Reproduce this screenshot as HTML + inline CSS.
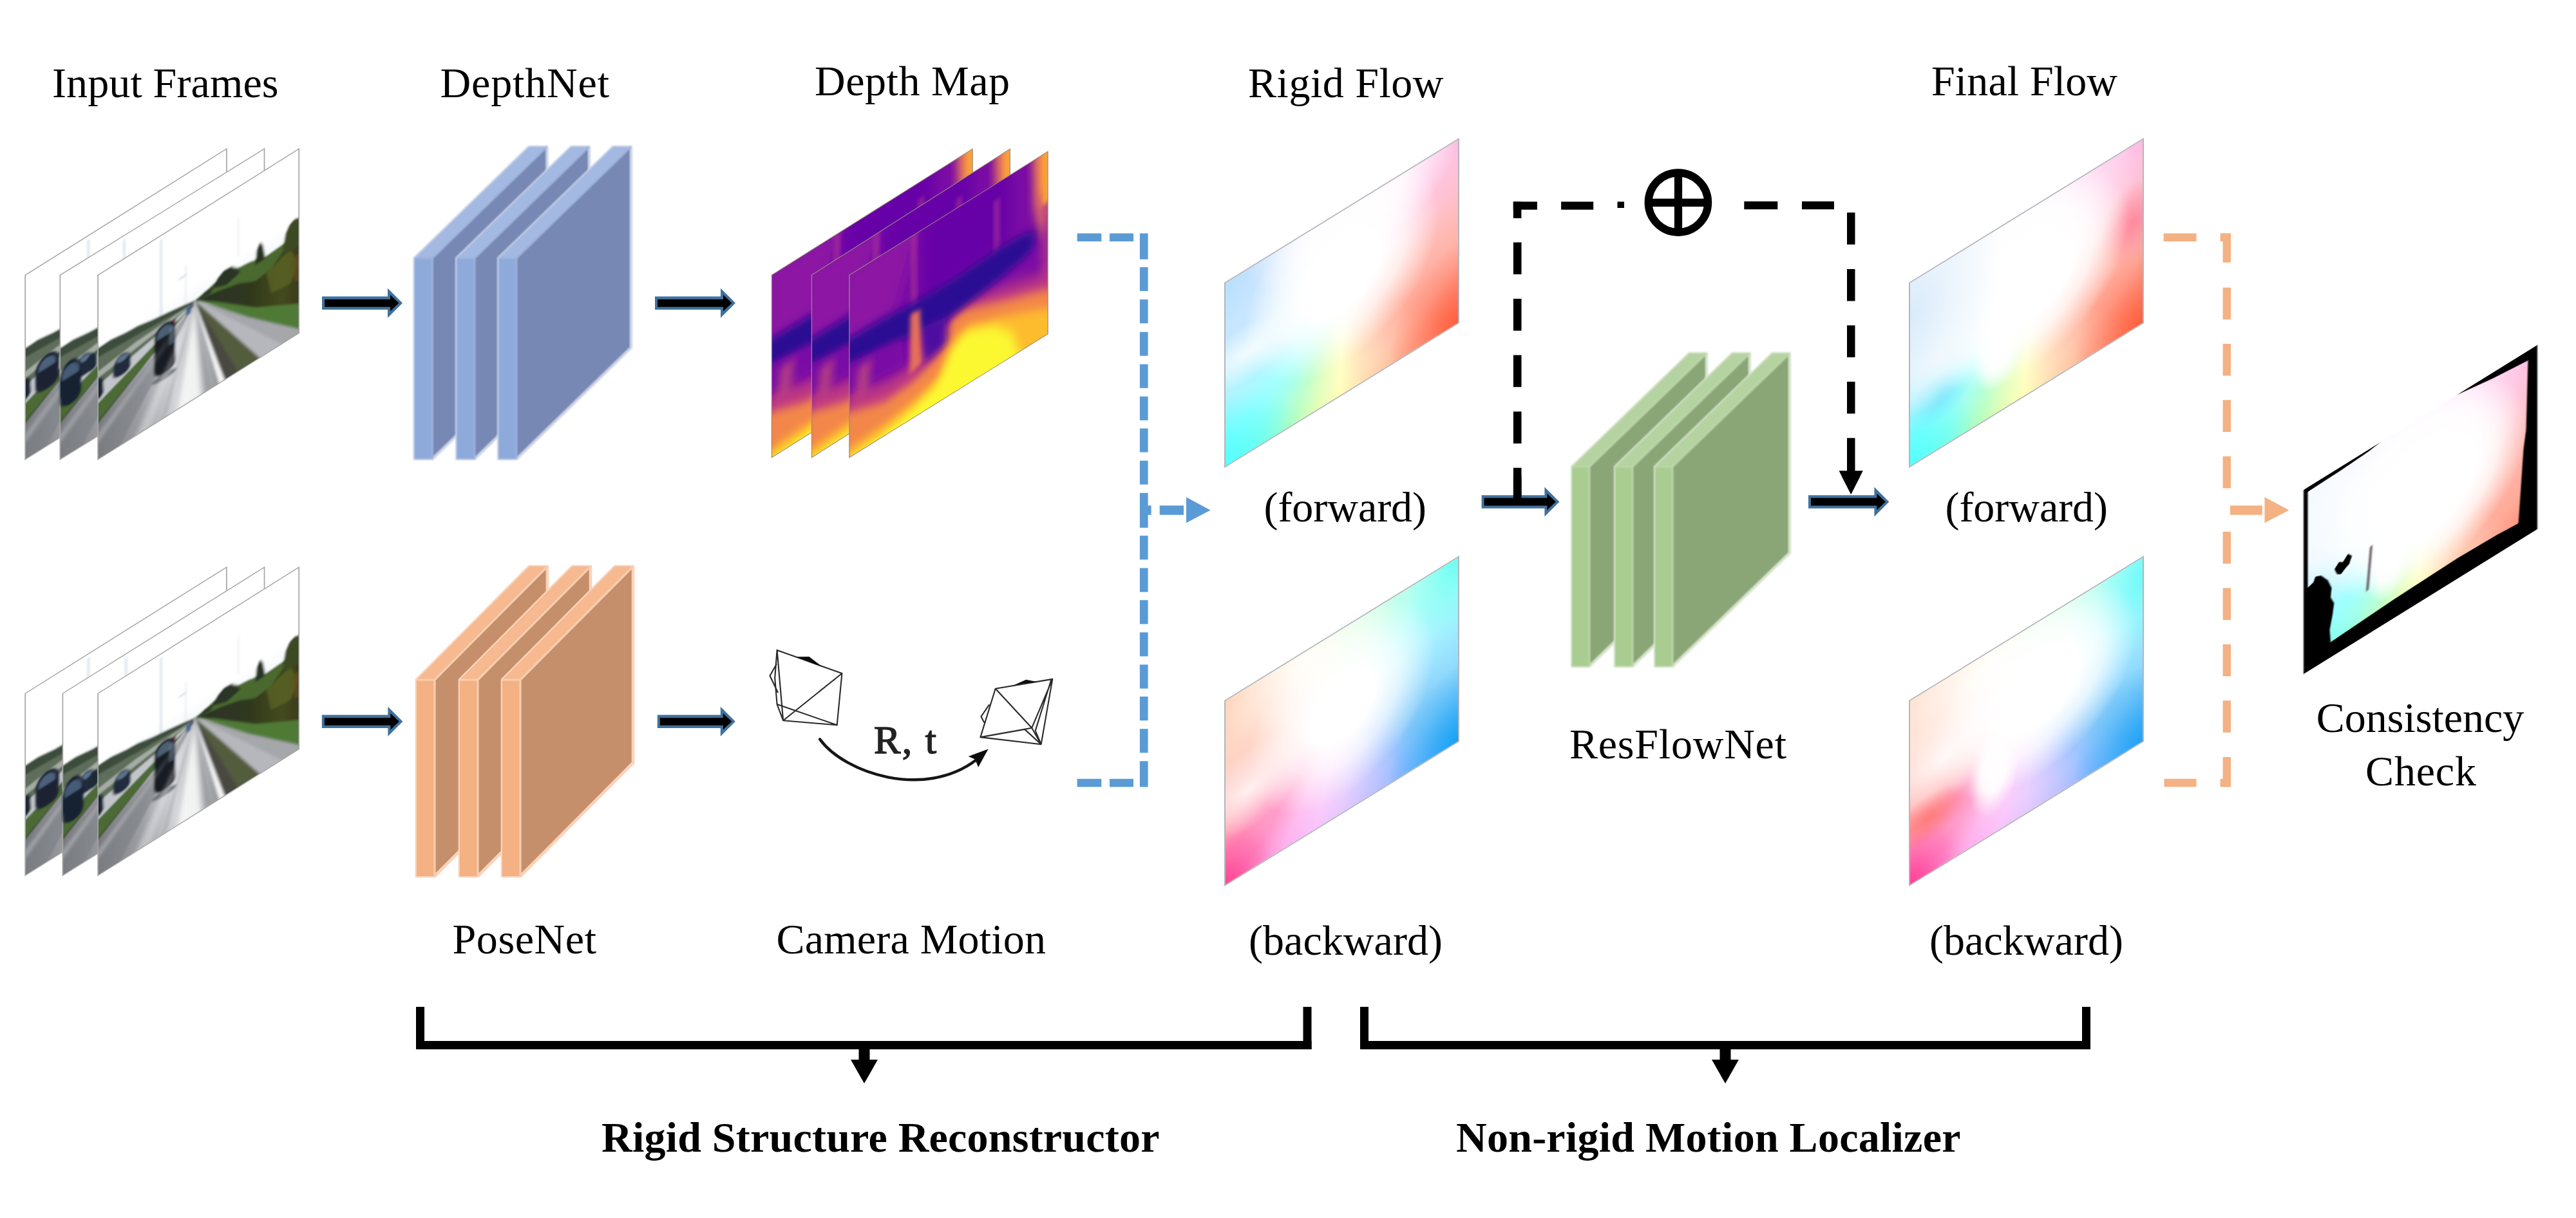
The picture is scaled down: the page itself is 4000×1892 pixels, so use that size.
<!DOCTYPE html>
<html>
<head>
<meta charset="utf-8">
<title>GeoNet overview</title>
<style>
html,body{margin:0;padding:0;background:#fff;}
body{width:4000px;height:1892px;position:relative;overflow:hidden;font-family:"Liberation Serif",serif;}
#main{position:absolute;left:0;top:0;}
text{font-family:"Liberation Serif",serif;font-size:66px;fill:#000;}
.b{font-weight:bold;}
.flow{position:absolute;transform-origin:0 0;box-sizing:border-box;overflow:hidden;}
.flow i{position:absolute;display:block;}
</style>
</head>
<body>
<div class="flow" style="left:1901px;top:438.8px;width:364.5px;height:288px;transform:matrix(1,-0.6165,0,1,0,0);border:2px solid #b3b6bc;background:
    radial-gradient(ellipse 42% 50% at 50% 34%, rgba(255,255,255,1) 0, rgba(255,255,255,1) 40%, rgba(255,255,255,0.75) 64%, rgba(255,255,255,0) 100%),
    radial-gradient(ellipse 45% 34% at 55% 0%, rgba(255,255,255,.95) 0, rgba(255,255,255,.8) 50%, rgba(255,255,255,0) 100%),
    radial-gradient(ellipse 26% 16% at 10% 45%, rgba(255,255,255,.8) 0, rgba(255,255,255,0) 100%),
    radial-gradient(ellipse 36% 46% at 0% 0%, rgba(184,224,254,.95) 0, rgba(196,228,254,.6) 50%, rgba(210,235,255,0) 100%),
    radial-gradient(ellipse 30% 36% at 0% 100%, rgba(80,255,255,.8) 0, rgba(80,255,255,.4) 55%, rgba(80,255,255,0) 100%),
    radial-gradient(ellipse 30% 45% at 100% 100%, rgba(255,86,50,.8) 0, rgba(255,100,70,.35) 60%, rgba(255,110,80,0) 100%),
    radial-gradient(ellipse 120% 120% at 52% 38%, rgba(255,255,255,.6) 0, rgba(255,255,255,.5) 45%, rgba(255,255,255,0.05) 85%),
    conic-gradient(from 0deg at 52% 40%, #f3b4ff 0deg, #ff9ae0 35deg, #ff86c8 58deg, #ff7d96 80deg, #ff6a58 100deg, #ff5a3c 120deg, #ff5530 135deg, #ff8458 152deg, #ffbd78 168deg, #ffff84 184deg, #c8ff80 196deg, #7dff96 207deg, #48ffd8 220deg, #3cffff 232deg, #62eaff 250deg, #8ad6ff 272deg, #9ccaff 300deg, #c4b8ff 330deg, #f3b4ff 360deg);"></div>
<div class="flow" style="left:1901px;top:1088px;width:364.5px;height:288.5px;transform:matrix(1,-0.6165,0,1,0,0);border:2px solid #b3b6bc;background:
    radial-gradient(ellipse 40% 50% at 50% 42%, rgba(255,255,255,1) 0, rgba(255,255,255,1) 35%, rgba(255,255,255,0.7) 62%, rgba(255,255,255,0) 100%),
    radial-gradient(ellipse 40% 30% at 34% 5%, rgba(255,255,255,.8) 0, rgba(255,255,255,0) 100%),
    radial-gradient(ellipse 26% 22% at 10% 56%, rgba(255,255,255,.8) 0, rgba(255,255,255,0) 100%),
    radial-gradient(ellipse 30% 40% at 0% 0%, rgba(255,206,176,.9) 0, rgba(255,214,190,.5) 55%, rgba(255,220,200,0) 100%),
    radial-gradient(ellipse 20% 27% at 0% 100%, rgba(255,64,140,.85) 0, rgba(255,80,160,.4) 55%, rgba(255,90,170,0) 100%),
    radial-gradient(ellipse 30% 42% at 100% 100%, rgba(16,160,244,.9) 0, rgba(40,170,246,.45) 55%, rgba(60,180,250,0) 100%),
    radial-gradient(ellipse 22% 40% at 100% 0%, rgba(100,255,240,.85) 0, rgba(120,255,240,.4) 55%, rgba(130,255,240,0) 100%),
    radial-gradient(ellipse 120% 120% at 52% 38%, rgba(255,255,255,.6) 0, rgba(255,255,255,.45) 45%, rgba(255,255,255,0.05) 85%),
    conic-gradient(from 0deg at 52% 40%, #b8ffb0 0deg, #8cffd0 30deg, #62fff2 56deg, #54eaff 80deg, #3cc8ff 100deg, #1fa6f6 120deg, #1f9cf4 135deg, #4a92ff 150deg, #9a9cff 166deg, #d4a6ff 182deg, #f6a0f8 196deg, #ff86e4 210deg, #ff4aa0 224deg, #ff4088 236deg, #ff7a7a 252deg, #ffa890 272deg, #ffc4a4 300deg, #fff0b0 330deg, #b8ffb0 360deg);"></div>
<div class="flow" style="left:2963.5px;top:438.8px;width:364.5px;height:288px;transform:matrix(1,-0.6165,0,1,0,0);border:2px solid #b3b6bc;background:
    radial-gradient(ellipse 40% 62% at 0% 18%, rgba(206,229,248,.75) 0, rgba(218,236,250,.45) 50%, rgba(232,244,253,0) 100%),
    radial-gradient(ellipse 44% 50% at 50% 38%, rgba(255,255,255,1) 0, rgba(255,255,255,1) 45%, rgba(255,255,255,0.8) 65%, rgba(255,255,255,0) 100%),
    radial-gradient(ellipse 70% 50% at 28% 15%, rgba(255,255,255,.95) 0, rgba(255,255,255,.85) 50%, rgba(255,255,255,0) 100%),
    radial-gradient(ellipse 11% 22% at 38% 66%, rgba(255,255,255,1) 0, rgba(255,255,255,.9) 50%, rgba(255,255,255,0) 100%),
    radial-gradient(ellipse 30% 28% at 12% 48%, rgba(255,255,255,.9) 0, rgba(255,255,255,0) 100%),
    radial-gradient(ellipse 14% 14% at 13% 72%, rgba(110,225,250,.8) 0, rgba(110,225,250,0) 100%),
    radial-gradient(ellipse 28% 34% at 0% 100%, rgba(80,255,255,.8) 0, rgba(80,255,255,.4) 55%, rgba(80,255,255,0) 100%),
    radial-gradient(ellipse 30% 45% at 100% 100%, rgba(255,86,50,.8) 0, rgba(255,100,70,.35) 60%, rgba(255,110,80,0) 100%),
    radial-gradient(ellipse 14% 22% at 96% 42%, rgba(255,120,150,.75) 0, rgba(255,120,150,0) 100%),
    radial-gradient(ellipse 120% 120% at 52% 38%, rgba(255,255,255,.6) 0, rgba(255,255,255,.5) 45%, rgba(255,255,255,0.05) 85%),
    conic-gradient(from 0deg at 52% 40%, #f3b4ff 0deg, #ff9ae0 35deg, #ff86c8 58deg, #ff7d96 80deg, #ff6a58 100deg, #ff5a3c 120deg, #ff5530 135deg, #ff8458 152deg, #ffbd78 168deg, #ffff84 184deg, #c8ff80 196deg, #7dff96 207deg, #48ffd8 220deg, #3cffff 232deg, #62eaff 250deg, #8ad6ff 272deg, #9ccaff 300deg, #c4b8ff 330deg, #f3b4ff 360deg);"></div>
<div class="flow" style="left:2963.5px;top:1088px;width:364.5px;height:288.5px;transform:matrix(1,-0.6165,0,1,0,0);border:2px solid #b3b6bc;background:
    radial-gradient(ellipse 44% 48% at 54% 36%, rgba(255,255,255,1) 0, rgba(255,255,255,1) 42%, rgba(255,255,255,0.75) 65%, rgba(255,255,255,0) 100%),
    radial-gradient(ellipse 11% 24% at 36% 66%, rgba(255,255,255,1) 0, rgba(255,255,255,.9) 50%, rgba(255,255,255,0) 100%),
    radial-gradient(ellipse 50% 35% at 32% 8%, rgba(255,255,255,.85) 0, rgba(255,255,255,0) 100%),
    radial-gradient(ellipse 17% 13% at 8% 70%, rgba(255,110,100,.75) 0, rgba(255,110,100,0) 100%),
    radial-gradient(ellipse 30% 25% at 14% 42%, rgba(255,255,255,.85) 0, rgba(255,255,255,0) 100%),
    radial-gradient(ellipse 28% 36% at 0% 0%, rgba(255,214,190,.8) 0, rgba(255,220,200,.4) 55%, rgba(255,224,208,0) 100%),
    radial-gradient(ellipse 22% 27% at 0% 100%, rgba(255,56,150,.85) 0, rgba(255,80,170,.4) 55%, rgba(255,90,180,0) 100%),
    radial-gradient(ellipse 30% 42% at 100% 100%, rgba(28,160,246,.9) 0, rgba(50,170,248,.45) 55%, rgba(70,180,250,0) 100%),
    radial-gradient(ellipse 20% 40% at 100% 10%, rgba(100,250,250,.8) 0, rgba(120,250,250,.4) 55%, rgba(130,250,250,0) 100%),
    radial-gradient(ellipse 120% 120% at 52% 38%, rgba(255,255,255,.6) 0, rgba(255,255,255,.45) 45%, rgba(255,255,255,0.05) 85%),
    conic-gradient(from 0deg at 52% 40%, #b8ffb0 0deg, #8cffd0 30deg, #62fff2 56deg, #54eaff 80deg, #3cc8ff 100deg, #1fa6f6 120deg, #1f9cf4 135deg, #4a92ff 150deg, #9a9cff 166deg, #d4a6ff 182deg, #f6a0f8 196deg, #ff86e4 210deg, #ff4aa0 224deg, #ff4088 236deg, #ff7a7a 252deg, #ffa890 272deg, #ffc4a4 300deg, #fff0b0 330deg, #b8ffb0 360deg);"></div>
<div class="flow" style="left:3577px;top:760.5px;width:363px;height:286px;transform:matrix(1,-0.62,0,1,0,0);background:#000;filter:blur(0.7px);"><i style="left:0;top:0;width:363px;height:286px;clip-path:polygon(6.5px 7px, 60px 5.5px, 100px 3px, 125px -1px, 232px -1px, 260px 3.5px, 294px 9px, 348.5px 15px, 345.5px 121px, 341.5px 148.5px, 333.6px 258.8px, 300px 256px, 240px 254.3px, 140px 257px, 42px 262.4px, 40.5px 242.4px, 45px 221.5px, 47.3px 205.2px, 42px 193px, 43.5px 179.2px, 37.6px 163.7px, 27.2px 149.9px, 18.4px 145.9px, 15.4px 152.9px, 6.5px 156px);filter:blur(0.6px);background:
    radial-gradient(ellipse 44% 50% at 52% 40%, rgba(255,255,255,1) 0, rgba(255,255,255,1) 50%, rgba(255,255,255,0.8) 70%, rgba(255,255,255,0) 100%),
    radial-gradient(ellipse 70% 55% at 25% 18%, rgba(255,255,255,.9) 0, rgba(255,255,255,.8) 50%, rgba(255,255,255,0) 100%),
    radial-gradient(ellipse 10% 22% at 36% 66%, rgba(255,255,255,1) 0, rgba(255,255,255,.9) 50%, rgba(255,255,255,0) 100%),
    radial-gradient(ellipse 120% 120% at 52% 38%, rgba(255,255,255,.62) 0, rgba(255,255,255,.5) 45%, rgba(255,255,255,0.05) 85%),
    conic-gradient(from 0deg at 52% 40%, #f3b4ff 0deg, #ff9ae0 35deg, #ff86c8 58deg, #ff7d96 80deg, #ff6a58 100deg, #ff5a3c 120deg, #ff5530 135deg, #ff8458 152deg, #ffbd78 168deg, #ffff84 184deg, #c8ff80 196deg, #7dff96 207deg, #48ffd8 220deg, #3cffff 232deg, #62eaff 250deg, #8ad6ff 272deg, #9ccaff 300deg, #c4b8ff 330deg, #f3b4ff 360deg);"></i><i style="left:0;top:0;width:363px;height:286px;clip-path:polygon(48px 153px, 55px 146px, 61px 150px, 69px 142px, 75px 149px, 71px 159px, 65px 162px, 58px 167px, 52px 163px);background:#000;"></i><i style="left:100px;top:152px;width:4px;height:66px;transform:rotate(5.3deg);background:rgba(70,40,50,.75);filter:blur(0.8px);"></i></div>
<svg id="main" width="4000" height="1892" viewBox="0 0 4000 1892">
<defs>
  <filter id="soft" x="-5%" y="-5%" width="110%" height="110%"><feGaussianBlur stdDeviation="1.1"/></filter>
  <filter id="soft2" x="-5%" y="-5%" width="110%" height="110%"><feGaussianBlur stdDeviation="0.7"/></filter>
  <g id="barrow">
    <polygon points="0,-10.2 102,-10.2 102,-23 125,0 102,23 102,10.2 0,10.2" fill="#41719c"/>
    <polygon points="4,-5.9 106,-5.9 106,-12.8 119.4,0 106,12.8 106,5.9 4,5.9" fill="#000"/>
  </g>
</defs>
<!-- titles -->
<text x="81" y="150.5" textLength="351.5">Input Frames</text>
<text x="683.5" y="150.5" textLength="262.5">DepthNet</text>
<text x="1265" y="148.3" textLength="303">Depth Map</text>
<text x="1938" y="150.8" textLength="303.5">Rigid Flow</text>
<text x="2999" y="148" textLength="289">Final Flow</text>
<defs>
  <clipPath id="roadclip"><rect x="0" y="0" width="313" height="285"/></clipPath>
  <filter id="rblur" x="-10%" y="-10%" width="120%" height="120%"><feGaussianBlur stdDeviation="1.7"/></filter>
  <filter id="rblur2" x="-20%" y="-20%" width="140%" height="140%"><feGaussianBlur stdDeviation="4"/></filter>
  <linearGradient id="skyg" x1="0" y1="0" x2="0" y2="1"><stop offset="0" stop-color="#ffffff"/><stop offset="0.75" stop-color="#ffffff"/><stop offset="1" stop-color="#f1f5f8"/></linearGradient>
  <linearGradient id="roadg" x1="0" y1="0" x2="1" y2="0"><stop offset="0" stop-color="#75777d"/><stop offset="0.35" stop-color="#9c9ea3"/><stop offset="0.62" stop-color="#d4d5d9"/><stop offset="0.85" stop-color="#a9aaae"/><stop offset="1" stop-color="#8e8e92"/></linearGradient>
  <linearGradient id="treeg" x1="0" y1="0" x2="1" y2="0"><stop offset="0" stop-color="#2b3424"/><stop offset="0.5" stop-color="#2f371f"/><stop offset="0.8" stop-color="#434a1e"/><stop offset="1" stop-color="#3a3a1c"/></linearGradient>
  <g id="road">
    <rect x="0" y="0" width="313" height="285" fill="#fff"/>
    <g clip-path="url(#roadclip)">
      <g filter="url(#rblur)">
        <rect x="-5" y="-5" width="323" height="150" fill="url(#skyg)"/>
        <!-- light poles -->
        <rect x="97" y="6" width="2.4" height="118" fill="#c9d3e2"/>
        <rect x="136" y="70" width="1.6" height="60" fill="#dde3ec"/>
        <rect x="126" y="84" width="12" height="3" fill="#d5dbe6"/>
        <rect x="218" y="48" width="1.6" height="60" fill="#e2e7ee"/>
        <!-- left tree line -->
        <polygon points="-5,113 20,112 45,116 62,117 85,122 112,126 135,130 150,133 150,139 -5,131" fill="#3d4d3c"/>
        <!-- left verge (grass/dark) -->
        <polygon points="150,136 -5,127 -5,176" fill="#5f6e5a"/>
        <polygon points="150,136 60,140 -5,150 -5,160" fill="#b7bcb8" opacity=".8"/>
        <!-- left (oncoming) road -->
        <polygon points="150,137 -5,172 -5,201" fill="#c2c6cb"/>
        <!-- left median grass -->
        <polygon points="150,137 -5,200 -5,235" fill="#4c6a34"/>
        <polygon points="150,137 -5,228 -5,236" fill="#42522e"/>
        <!-- main road -->
        <polygon points="149,136 -5,233 -5,290 200,290 152,136" fill="url(#roadg)"/>
        <polygon points="150,138 -5,240 -5,290 30,290" fill="#7c7e84" opacity=".6"/>
        <polygon points="150,138 96,290 106,290" fill="#9b9da2" opacity=".3"/>
        <polygon points="151,138 168,290 176,290" fill="#8f9196" opacity=".4"/>
        <!-- right median -->
        <polygon points="152,136 199,290 256,290 153,136" fill="#525c3c"/>
        <polygon points="152,136 198,290 220,290" fill="#4a4842"/>
        <polygon points="151.5,138 190,290 199,290" fill="#f4f4f6"/>
        <!-- side road -->
        <polygon points="153,136 255,290 318,290 318,281" fill="#b6b7bc"/>
        <polygon points="156,138 290,290 318,290 318,284" fill="#a6a7ab"/>
        <!-- right grass strip -->
        <polygon points="153,135 168,148 234,211 318,283 318,240 245,203 181,154" fill="#4f7a36"/>
        <!-- hillside: light green slope + dark bushes + trees -->
        <polygon points="150,133 166,130 185,124 196,117 208,118 219,125 236,127 262,134 287,132 318,125 318,242 245,203 181,154 153,136" fill="#48692f"/>
        <polygon points="153,135 191,142 220,150 245,162 270,158 290,140 318,130 318,242 245,203 181,154" fill="url(#treeg)"/>
        <polygon points="262,160 300,148 312,175 300,200 270,196" fill="#5c6622" opacity=".7"/>
        <polygon points="304,165 318,160 318,205 306,200" fill="#6a4c20" opacity=".7"/>
        <!-- trees on skyline -->
        <polygon points="245,137 247,116 252,106 257,114 261,137" fill="#263424"/>
        <polygon points="288,140 292,118 298,108 306,104 313,106 318,108 318,150 290,150" fill="#3d4a20"/>
        <polygon points="178,132 186,121 196,115 208,116 216,124 222,134 200,140" fill="#2b3626"/>
        <polygon points="155,135 166,129 180,131 176,138" fill="#2f3a2a"/>
        <!-- far cars -->
        <rect x="137" y="137" width="8" height="12" fill="#46608c"/>
        <rect x="144" y="135" width="5" height="7" fill="#4a5466"/>
        <rect x="115" y="143" width="6" height="12" fill="#7a2c3a"/>
        <!-- left road cars -->
        <path d="M24,158 Q27,146 38,145 Q50,146 51,159 L51,170 Q49,178 37,178 Q24,178 23,170 Z" fill="#202b3e"/>
        <ellipse cx="38" cy="152" rx="9" ry="4.5" fill="#5b728c"/>
        <path d="M-5,160 Q4,158 8,166 L9,186 Q3,196 -5,192 Z" fill="#1e2736"/>
        <!-- dark car on main road -->
        <path d="M88,152 Q90,140 104,139 Q118,139 120,152 L121,205 Q121,216 104,217 Q88,217 87,205 Z" fill="#181b24"/>
        <path d="M92,153 Q94,144 104,143 Q114,143 116,153 L116,159 L92,159 Z" fill="#4b5e72"/>
        <rect x="111" y="150" width="8" height="28" fill="#6c8194" opacity=".5"/>
        <ellipse cx="103" cy="221" rx="19" ry="5" fill="#74767c"/>
      </g>
      <!-- bright wet centre of main road -->
      <g filter="url(#rblur2)">
        <polygon points="150,140 124,290 162,290" fill="#fff" opacity=".8"/>
        <polygon points="150,140 56,290 80,290" fill="#fff" opacity=".3"/>
        <polygon points="150,140 -5,250 -5,262" fill="#fff" opacity=".3"/>
      </g>
    </g>
    <rect x="0" y="0" width="313" height="285" fill="none" stroke="#a6a6a6" stroke-width="1.7"/>
  </g>
  <g id="carB" filter="url(#rblur)">
    <path d="M16,160 Q19,145 34,143 Q50,144 52,160 L52,186 Q50,197 34,197 Q17,197 16,186 Z" fill="#1b2330"/>
    <path d="M21,158 Q24,149 34,148 Q45,149 47,158 L47,164 L21,164 Z" fill="#4c627c"/>
  </g>
  <g id="carM" filter="url(#rblur)">
    <path d="M0,160 Q3,143 16,141 Q30,142 32,160 L32,196 Q30,209 15,209 Q1,208 0,196 Z" fill="#182030"/>
    <path d="M3,158 Q6,148 16,147 Q27,148 29,158 L29,166 L3,166 Z" fill="#455b76"/>
    <path d="M41,160 Q43,152 48,152 Q55,152 56,160 L56,172 Q54,177 48,177 Q42,177 41,172 Z" fill="#1f2938"/>
  </g>
</defs>
<defs>
  <clipPath id="depclip"><rect x="0" y="0" width="309" height="282"/></clipPath>
  <filter id="db3" x="-30%" y="-30%" width="160%" height="160%"><feGaussianBlur stdDeviation="3.5"/></filter>
  <filter id="db6" x="-30%" y="-30%" width="160%" height="160%"><feGaussianBlur stdDeviation="7"/></filter>
  <filter id="db10" x="-30%" y="-30%" width="160%" height="160%"><feGaussianBlur stdDeviation="11"/></filter>
  <g id="depth">
    <g clip-path="url(#depclip)">
      <rect x="0" y="0" width="309" height="282" fill="#7b0ca5"/>
      <polygon points="-10,-10 110,-10 70,100 -10,100" fill="#8d14a4" filter="url(#db10)"/>
      <polygon points="110,-10 250,-10 250,100 110,110" fill="#6606a7" filter="url(#db10)"/>
      <!-- faint vertical streaks -->
      <rect x="96" y="-5" width="9" height="130" fill="#a83098" filter="url(#db3)" opacity=".75"/>
      <rect x="225" y="25" width="9" height="80" fill="#a83098" filter="url(#db3)" opacity=".7"/>
      <!-- right/top orange edge -->
      <polygon points="286,-10 320,-10 320,80 300,130 288,70" fill="#f0834f" filter="url(#db6)"/>
      <polygon points="296,60 320,60 320,220 300,200" fill="#b03a8c" filter="url(#db6)" opacity=".8"/>
      <rect x="300" y="-6" width="14" height="84" fill="#fba238" filter="url(#db3)"/>
      <!-- lower gradient regions -->
      <polygon points="-10,176 54,200 100,200 140,176 160,150 182,150 246,168 320,192 320,300 -10,300" fill="#c13b82" filter="url(#db10)"/>
      <polygon points="-10,208 54,230 100,226 140,210 158,168 182,165 246,190 320,216 320,300 -10,300" fill="#f3874a" filter="url(#db6)"/>
      <polygon points="-10,268 54,264 100,256 138,242 160,200 182,190 246,214 320,246 320,300 -10,300" fill="#fdbb2d" filter="url(#db6)"/>
      <polygon points="-10,284 54,278 100,268 138,254 162,212 184,200 226,218 252,244 270,300 -10,300" fill="#fbf830" filter="url(#db6)"/>
      <!-- indigo band -->
      <polygon points="-10,98 60,101 100,105 160,107 230,103 270,104 290,112 286,137 268,143 230,151 180,159 140,164 100,154 60,146 -10,139" fill="#2a0a93" filter="url(#db6)"/>
      <polygon points="112,150 150,158 152,200 116,208" fill="#4d08a0" filter="url(#db6)"/>
      <polygon points="-10,135 80,150 85,190 -10,180" fill="#7a0ea6" filter="url(#db6)" opacity=".9"/>
      <!-- orange vertical streak -->
      <polygon points="95,118 110,122 113,205 94,212" fill="#e56f5a" filter="url(#db3)"/>
      <polygon points="14,150 34,152 28,200 10,195" fill="#c44c7c" filter="url(#db6)" opacity=".8"/>
    </g>
    <rect x="0" y="0" width="309" height="282" fill="none" stroke="#9a8f80" stroke-width="1.2"/>
  </g>
</defs>
<!-- slabs -->
<g filter="url(#soft)" stroke-linejoin="round"><polygon points="643.5,401 821.5,228 849.5,228 849.5,540 671.5,713 643.5,713" fill="#7688b3" stroke="#ccd4e6" stroke-width="4.1"/><polygon points="643.5,401 671.5,401 849.5,228 821.5,228" fill="#a4b9e1"/><rect x="643.5" y="401" width="28" height="312" fill="#8eaadb"/><path d="M643.5,401 L671.5,401 L849.5,228 M671.5,401 L671.5,713" fill="none" stroke="#9fb3dc" stroke-width="2.6"/></g>
<g filter="url(#soft)" stroke-linejoin="round"><polygon points="709,401 887,228 915,228 915,540 737,713 709,713" fill="#7688b3" stroke="#ccd4e6" stroke-width="4.1"/><polygon points="709,401 737,401 915,228 887,228" fill="#a4b9e1"/><rect x="709" y="401" width="28" height="312" fill="#8eaadb"/><path d="M709,401 L737,401 L915,228 M737,401 L737,713" fill="none" stroke="#9fb3dc" stroke-width="2.6"/></g>
<g filter="url(#soft)" stroke-linejoin="round"><polygon points="774,401 952,228 980,228 980,540 802,713 774,713" fill="#7688b3" stroke="#ccd4e6" stroke-width="4.1"/><polygon points="774,401 802,401 980,228 952,228" fill="#a4b9e1"/><rect x="774" y="401" width="28" height="312" fill="#8eaadb"/><path d="M774,401 L802,401 L980,228 M802,401 L802,713" fill="none" stroke="#9fb3dc" stroke-width="2.6"/></g>
<g filter="url(#soft2)" stroke-linejoin="round"><polygon points="647,1056 822,880 850,880 850,1185 675,1361 647,1361" fill="#c48f6b" stroke="#f9d3ba" stroke-width="4.7"/><polygon points="647,1056 675,1056 850,880 822,880" fill="#f6b990"/><rect x="647" y="1056" width="28" height="305" fill="#f4b183"/><path d="M647,1056 L675,1056 L850,880 M675,1056 L675,1361" fill="none" stroke="#f8cdb0" stroke-width="3.2"/></g>
<g filter="url(#soft2)" stroke-linejoin="round"><polygon points="714,1056 889,880 917,880 917,1185 742,1361 714,1361" fill="#c48f6b" stroke="#f9d3ba" stroke-width="4.7"/><polygon points="714,1056 742,1056 917,880 889,880" fill="#f6b990"/><rect x="714" y="1056" width="28" height="305" fill="#f4b183"/><path d="M714,1056 L742,1056 L917,880 M742,1056 L742,1361" fill="none" stroke="#f8cdb0" stroke-width="3.2"/></g>
<g filter="url(#soft2)" stroke-linejoin="round"><polygon points="780,1056 955,880 983,880 983,1185 808,1361 780,1361" fill="#c48f6b" stroke="#f9d3ba" stroke-width="4.7"/><polygon points="780,1056 808,1056 983,880 955,880" fill="#f6b990"/><rect x="780" y="1056" width="28" height="305" fill="#f4b183"/><path d="M780,1056 L808,1056 L983,880 M808,1056 L808,1361" fill="none" stroke="#f8cdb0" stroke-width="3.2"/></g>
<g filter="url(#soft)" stroke-linejoin="round"><polygon points="2441,725 2623,549 2650,549 2650,859 2468,1035 2441,1035" fill="#8aa676" stroke="#d6e4cc" stroke-width="4.3"/><polygon points="2441,725 2468,725 2650,549 2623,549" fill="#b5d3a0"/><rect x="2441" y="725" width="27" height="310" fill="#a9cc91"/><path d="M2441,725 L2468,725 L2650,549 M2468,725 L2468,1035" fill="none" stroke="#bcd6aa" stroke-width="2.8"/></g>
<g filter="url(#soft)" stroke-linejoin="round"><polygon points="2508,725 2690,549 2717,549 2717,859 2535,1035 2508,1035" fill="#8aa676" stroke="#d6e4cc" stroke-width="4.3"/><polygon points="2508,725 2535,725 2717,549 2690,549" fill="#b5d3a0"/><rect x="2508" y="725" width="27" height="310" fill="#a9cc91"/><path d="M2508,725 L2535,725 L2717,549 M2535,725 L2535,1035" fill="none" stroke="#bcd6aa" stroke-width="2.8"/></g>
<g filter="url(#soft)" stroke-linejoin="round"><polygon points="2570,725 2752,549 2779,549 2779,859 2597,1035 2570,1035" fill="#8aa676" stroke="#d6e4cc" stroke-width="4.3"/><polygon points="2570,725 2597,725 2779,549 2752,549" fill="#b5d3a0"/><rect x="2570" y="725" width="27" height="310" fill="#a9cc91"/><path d="M2570,725 L2597,725 L2779,549 M2597,725 L2597,1035" fill="none" stroke="#bcd6aa" stroke-width="2.8"/></g>
<!-- block arrows -->
<polygon points="500,460.6 602,460.6 602,447.8 625,470.8 602,493.8 602,481.0 500,481.0" fill="#41719c"/><polygon points="504,464.90000000000003 606,464.90000000000003 606,458.0 619.4,470.8 606,483.6 606,476.7 504,476.7" fill="#000"/>
<polygon points="1017,460.6 1119,460.6 1119,447.8 1142,470.8 1119,493.8 1119,481.0 1017,481.0" fill="#41719c"/><polygon points="1021,464.90000000000003 1123,464.90000000000003 1123,458.0 1136.4,470.8 1123,483.6 1123,476.7 1021,476.7" fill="#000"/>
<polygon points="499.8,1110.6 602.4,1110.6 602.4,1097.8 625.4,1120.8 602.4,1143.8 602.4,1131.0 499.8,1131.0" fill="#41719c"/><polygon points="503.8,1114.8999999999999 606.4,1114.8999999999999 606.4,1108.0 619.8,1120.8 606.4,1133.6 606.4,1126.7 503.8,1126.7" fill="#000"/>
<polygon points="1020.8,1110.6 1118.8,1110.6 1118.8,1097.8 1141.8,1120.8 1118.8,1143.8 1118.8,1131.0 1020.8,1131.0" fill="#41719c"/><polygon points="1024.8,1114.8999999999999 1122.8,1114.8999999999999 1122.8,1108.0 1136.2,1120.8 1122.8,1133.6 1122.8,1126.7 1024.8,1126.7" fill="#000"/>
<!-- input frames -->
<use href="#road" transform="matrix(0.9987,-0.6268,0,1.0046,39.2,427.4)"/>
<use href="#carB" transform="matrix(0.9987,-0.6268,0,1.0046,39.2,427.4)"/>
<use href="#road" transform="matrix(1.0134,-0.6268,0,1.0046,93.3,427.4)"/>
<use href="#carM" transform="matrix(1.0134,-0.6268,0,1.0046,93.3,427.4)"/>
<use href="#road" transform="matrix(0.9971,-0.6268,0,1.0046,152.1,427.4)"/>
<use href="#road" transform="matrix(0.9987,-0.6268,0,0.9916,39.2,1077.2)"/>
<use href="#carB" transform="matrix(0.9987,-0.6268,0,0.9916,39.2,1077.2)"/>
<use href="#road" transform="matrix(1.0003,-0.6268,0,0.9916,97.4,1077.2)"/>
<use href="#carM" transform="matrix(1.0003,-0.6268,0,0.9916,97.4,1077.2)"/>
<use href="#road" transform="matrix(0.9971,-0.6268,0,0.9916,152.1,1077.2)"/>
<!-- depth maps -->
<use href="#depth" transform="matrix(1.0091,-0.6343,0,1.0053,1198.3,427.2)"/>
<use href="#depth" transform="matrix(0.9968,-0.6343,0,1.0053,1260.4,427.2)"/>
<use href="#depth" transform="matrix(0.9974,-0.6210,0,1.0053,1318.9,427.2)"/>
<!-- camera motion -->
<g filter="url(#soft2)"><path d="M1206.6,1009.9L1307.4,1046.0 M1307.4,1046.0L1299.7,1126.3 M1299.7,1126.3L1216.1,1119.2 M1216.1,1119.2L1206.6,1009.9 M1307.4,1046.0L1216.1,1119.2 M1206.6,1094.1L1299.7,1126.3 M1206.6,1009.9L1203.2,1053.1 M1203.2,1053.1L1206.6,1094.1 M1206.6,1094.1L1216.1,1119.2 M1205.5,1032.1L1195.5,1049.8 M1195.5,1049.8L1207.7,1075.3" fill="none" stroke="#2b2b2b" stroke-width="2.1" stroke-linecap="round"/>
<polygon points="1236.5,1020.3 1256.4,1019.9 1276.4,1035.4 1267.5,1032.7" fill="#111"/>
<path d="M1545.7,1069.8L1634.3,1054.9 M1634.3,1054.9L1616.6,1156.2 M1616.6,1156.2L1522.4,1145.1 M1522.4,1145.1L1545.7,1069.8 M1545.7,1069.8L1602.2,1130.7 M1602.2,1130.7L1616.6,1156.2 M1634.3,1054.9L1602.2,1130.7 M1522.4,1145.1L1602.2,1130.7 M1522.4,1145.1L1591.1,1132.9 M1591.1,1132.9L1616.6,1156.2 M1632.1,1056.5L1607.7,1135.1 M1607.7,1135.1L1616.6,1156.2 M1535.7,1095.2L1523.5,1113.0 M1523.5,1113.0L1527.9,1121.8" fill="none" stroke="#2b2b2b" stroke-width="2.1" stroke-linecap="round"/>
<polygon points="1573.4,1064.7 1593.3,1055.8 1611.0,1059.3 1591.1,1061.6" fill="#111"/>
<path d="M1273.1,1148.4 C1311.8,1201.6 1436.0,1241.5 1515.7,1180.6" fill="none" stroke="#151515" stroke-width="4.4" stroke-linecap="round"/>
<polygon points="1534.6,1163.5 1519.1,1191.7 1514.0,1179.5 1503.6,1175.0" fill="#111"/>
<text x="1357" y="1169.5" style="font-size:62px;fill:#222;stroke:#222;stroke-width:1.5px" textLength="97" lengthAdjust="spacing">R, t</text>
</g>
<!-- blue dashed connector -->
<g>
<rect x="1672.6" y="362.5" width="37.7" height="12.5" fill="#5b9bd5"/>
<rect x="1723.0" y="362.5" width="37.0" height="12.5" fill="#5b9bd5"/>
<rect x="1672.6" y="1209.8" width="37.7" height="12.6" fill="#5b9bd5"/>
<rect x="1723.0" y="1209.8" width="37.0" height="12.6" fill="#5b9bd5"/>
<rect x="1769.9" y="362.5" width="12.7" height="40.3" fill="#5b9bd5"/>
<rect x="1769.9" y="415.1" width="12.7" height="37.0" fill="#5b9bd5"/>
<rect x="1769.9" y="465.2" width="12.7" height="37.0" fill="#5b9bd5"/>
<rect x="1769.9" y="515.7" width="12.7" height="37.0" fill="#5b9bd5"/>
<rect x="1769.9" y="565.8" width="12.7" height="37.0" fill="#5b9bd5"/>
<rect x="1769.9" y="615.9" width="12.7" height="37.0" fill="#5b9bd5"/>
<rect x="1769.9" y="665.5" width="12.7" height="37.0" fill="#5b9bd5"/>
<rect x="1769.9" y="715.6" width="12.7" height="37.0" fill="#5b9bd5"/>
<rect x="1769.9" y="765.7" width="12.7" height="54.1" fill="#5b9bd5"/>
<rect x="1769.9" y="832.1" width="12.7" height="37.2" fill="#5b9bd5"/>
<rect x="1769.9" y="882.4" width="12.7" height="37.2" fill="#5b9bd5"/>
<rect x="1769.9" y="932.2" width="12.7" height="37.2" fill="#5b9bd5"/>
<rect x="1769.9" y="982.3" width="12.7" height="37.2" fill="#5b9bd5"/>
<rect x="1769.9" y="1032.4" width="12.7" height="37.2" fill="#5b9bd5"/>
<rect x="1769.9" y="1082.0" width="12.7" height="37.2" fill="#5b9bd5"/>
<rect x="1769.9" y="1132.2" width="12.7" height="37.2" fill="#5b9bd5"/>
<rect x="1769.9" y="1182.3" width="12.7" height="40.1" fill="#5b9bd5"/>
<rect x="1782.0" y="785.3" width="5.6" height="14.5" fill="#5b9bd5"/>
<rect x="1800.7" y="785.3" width="37.3" height="14.5" fill="#5b9bd5"/>
<polygon points="1842,772.3 1879.5,792.4 1842,812.3" fill="#5b9bd5"/>
</g>
<!-- orange dashed connector -->
<g>
<rect x="3359.7" y="362.5" width="50.9" height="12.5" fill="#f4b183"/>
<rect x="3447.6" y="362.5" width="16.4" height="12.5" fill="#f4b183"/>
<rect x="3360.5" y="1209.8" width="50.1" height="12.5" fill="#f4b183"/>
<rect x="3447.6" y="1209.8" width="16.4" height="12.5" fill="#f4b183"/>
<rect x="3451.6" y="362.5" width="12.4" height="45.2" fill="#f4b183"/>
<rect x="3451.6" y="446.7" width="12.4" height="49.6" fill="#f4b183"/>
<rect x="3451.6" y="534.0" width="12.4" height="49.6" fill="#f4b183"/>
<rect x="3451.6" y="621.4" width="12.4" height="49.6" fill="#f4b183"/>
<rect x="3451.6" y="708.8" width="12.4" height="49.6" fill="#f4b183"/>
<rect x="3451.6" y="826.0" width="12.4" height="49.6" fill="#f4b183"/>
<rect x="3451.6" y="913.4" width="12.4" height="49.6" fill="#f4b183"/>
<rect x="3451.6" y="1000.8" width="12.4" height="49.6" fill="#f4b183"/>
<rect x="3451.6" y="1088.2" width="12.4" height="49.6" fill="#f4b183"/>
<rect x="3451.6" y="1176.0" width="12.4" height="46.3" fill="#f4b183"/>
<rect x="3463.0" y="785.3" width="49.8" height="14.5" fill="#f4b183"/>
<polygon points="3516.5,772.3 3554.5,792.4 3516.5,812.3" fill="#f4b183"/>
</g>
<!-- black dashed skip connection -->
<g>
<rect x="2349.8" y="313.3" width="37.1" height="12.4" fill="#000"/>
<rect x="2349.8" y="313.3" width="12.6" height="25.7" fill="#000"/>
<rect x="2424.1" y="313.3" width="50.1" height="12.4" fill="#000"/>
<rect x="2511.5" y="313.3" width="10.5" height="9.7" fill="#000"/>
<rect x="2349.9" y="376.5" width="12.6" height="49.6" fill="#000"/>
<rect x="2349.9" y="464.1" width="12.6" height="49.6" fill="#000"/>
<rect x="2349.9" y="551.6" width="12.6" height="49.6" fill="#000"/>
<rect x="2349.9" y="639.3" width="12.6" height="49.6" fill="#000"/>
<rect x="2349.9" y="726.7" width="12.6" height="49.3" fill="#000"/>
<rect x="2708.3" y="312.8" width="52.0" height="12.4" fill="#000"/>
<rect x="2798.0" y="312.8" width="50.0" height="12.4" fill="#000"/>
<rect x="2868.0" y="330.2" width="12.5" height="49.6" fill="#000"/>
<rect x="2868.0" y="418.0" width="12.5" height="49.6" fill="#000"/>
<rect x="2868.0" y="505.4" width="12.5" height="49.6" fill="#000"/>
<rect x="2868.0" y="592.9" width="12.5" height="49.6" fill="#000"/>
<rect x="2868.0" y="680.4" width="12.5" height="51.6" fill="#000"/>
<polygon points="2855.5,731.2 2892.8,731.2 2874.2,767.8" fill="#000"/>
<circle cx="2605.9" cy="314.6" r="46.2" fill="none" stroke="#000" stroke-width="12.2"/>
<rect x="2599.9" y="266.0" width="12.2" height="97.0" fill="#000"/>
<rect x="2557.0" y="308.6" width="98.0" height="12.4" fill="#000"/>
</g>
<polygon points="2300.6,769.3 2398.4,769.3 2398.4,756.5 2421.4,779.5 2398.4,802.5 2398.4,789.7 2300.6,789.7" fill="#41719c"/><polygon points="2304.6,773.6 2402.4,773.6 2402.4,766.7 2415.8,779.5 2402.4,792.3 2402.4,785.4 2304.6,785.4" fill="#000"/>
<polygon points="2808,769.3 2910.4,769.3 2910.4,756.5 2933.4,779.5 2910.4,802.5 2910.4,789.7 2808,789.7" fill="#41719c"/><polygon points="2812,773.6 2914.4,773.6 2914.4,766.7 2927.8,779.5 2914.4,792.3 2914.4,785.4 2812,785.4" fill="#000"/>
<rect x="2349.9" y="740.0" width="12.6" height="36.0" fill="#000"/>
<polygon points="2860,740 2888.3,740 2874.2,767.8" fill="#000"/>
<!-- labels -->
<text x="2437" y="1177.5" textLength="337">ResFlowNet</text>
<text x="702.5" y="1481" textLength="223.5">PoseNet</text>
<text x="1205.5" y="1481" textLength="418.5">Camera Motion</text>
<text x="1962.5" y="809.5" textLength="252.5">(forward)</text>
<text x="1939" y="1482.5" textLength="301">(backward)</text>
<text x="3020.5" y="809.5" textLength="252.5">(forward)</text>
<text x="2996" y="1482.5" textLength="301">(backward)</text>
<text x="3758" y="1137" text-anchor="middle">Consistency</text>
<text x="3759" y="1220.3" text-anchor="middle" textLength="172">Check</text>
<text x="934" y="1789" class="b" textLength="866.5">Rigid Structure Reconstructor</text>
<text x="2261" y="1789" class="b" textLength="783.5">Non-rigid Motion Localizer</text>
<!-- brackets -->
<g fill="#000"><rect x="646.0" y="1564.0" width="13.0" height="66.0" fill="#000"/><rect x="2023.5" y="1564.0" width="13.0" height="66.0" fill="#000"/><rect x="646.0" y="1617.0" width="1390.5" height="13.0" fill="#000"/><rect x="1333.5" y="1617.0" width="17.0" height="30.0" fill="#000"/><polygon points="1321,1646 1363,1646 1342,1683"/></g>
<g fill="#000"><rect x="2112.0" y="1564.0" width="13.0" height="66.0" fill="#000"/><rect x="3233.0" y="1564.0" width="13.0" height="66.0" fill="#000"/><rect x="2112.0" y="1617.0" width="1134.0" height="13.0" fill="#000"/><rect x="2670.5" y="1617.0" width="17.0" height="30.0" fill="#000"/><polygon points="2658,1646 2700,1646 2679,1683"/></g>
</svg>
</body>
</html>
